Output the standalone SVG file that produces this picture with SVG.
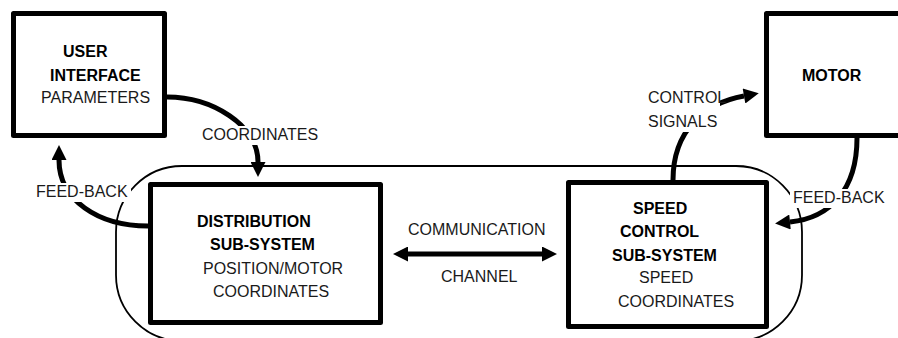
<svg xmlns="http://www.w3.org/2000/svg" width="898" height="338" viewBox="0 0 898 338">
<style>
.box{fill:#fff;stroke:#000;stroke-width:5;stroke-linejoin:round}
.cont{fill:none;stroke:#000;stroke-width:1.8}
.con{fill:none;stroke:#000;stroke-width:5}
.t{font-family:"Liberation Sans",Arial,sans-serif;font-size:16px;fill:#1a1a1a}
.b{font-weight:bold;fill:#000}
.mask{fill:#fff;stroke:none}
</style>
<defs>
<marker id="ah" viewBox="0 0 10 10" markerUnits="userSpaceOnUse" markerWidth="22" markerHeight="15" refX="0" refY="5" orient="auto-start-reverse">
<path d="M0,0 L10,5 L0,10 z" fill="#000"/>
</marker>
</defs>
<rect class="cont" x="116" y="166" width="686" height="175" rx="66" ry="66"/>
<g id="user-interface">
<rect class="box" x="13.5" y="13.5" width="151" height="122"/>
<text class="t b" x="63" y="57">USER</text>
<text class="t b" x="50" y="81">INTERFACE</text>
<text class="t" x="41" y="103">PARAMETERS</text>
</g>
<g id="motor">
<rect class="box" x="766.5" y="13.5" width="200" height="122"/>
<text class="t b" x="802" y="81">MOTOR</text>
</g>
<g id="distribution">
<rect class="box" x="150.5" y="184.5" width="230" height="138"/>
<text class="t b" x="197" y="227">DISTRIBUTION</text>
<text class="t b" x="210" y="250">SUB-SYSTEM</text>
<text class="t" x="203" y="274">POSITION/MOTOR</text>
<text class="t" x="213" y="297">COORDINATES</text>
</g>
<g id="speed-control">
<rect class="box" x="568.5" y="182.5" width="198" height="144"/>
<text class="t b" x="633" y="214">SPEED</text>
<text class="t b" x="620" y="237">CONTROL</text>
<text class="t b" x="612" y="261">SUB-SYSTEM</text>
<text class="t" x="639" y="283">SPEED</text>
<text class="t" x="618" y="307">COORDINATES</text>
</g>
<g id="connectors">
<path class="con" d="M167,97 C212,97 258,125 258,162" marker-end="url(#ah)"/>
<path class="con" d="M148,226 C98,226 59,200 59,160" marker-end="url(#ah)"/>
<path class="con" d="M857,138 C857,190 830,218 790,222" marker-end="url(#ah)"/>
<path class="con" d="M673,180 C673,130 705,103 744,96" marker-end="url(#ah)"/>
<path class="con" d="M408,254 L542,254" marker-start="url(#ah)" marker-end="url(#ah)"/>
<rect class="mask" x="199" y="126" width="104" height="19"/>
<rect class="mask" x="33" y="183" width="98" height="19"/>
<rect class="mask" x="790" y="189" width="100" height="19"/>
<rect class="mask" x="645" y="89" width="75" height="43"/>
<text class="t" x="202" y="140">COORDINATES</text>
<text class="t" x="36" y="197">FEED-BACK</text>
<text class="t" x="793" y="203">FEED-BACK</text>
<text class="t" x="648" y="103">CONTROL</text>
<text class="t" x="648" y="127">SIGNALS</text>
<text class="t" x="408" y="235">COMMUNICATION</text>
<text class="t" x="441" y="282">CHANNEL</text>
</g>
</svg>
